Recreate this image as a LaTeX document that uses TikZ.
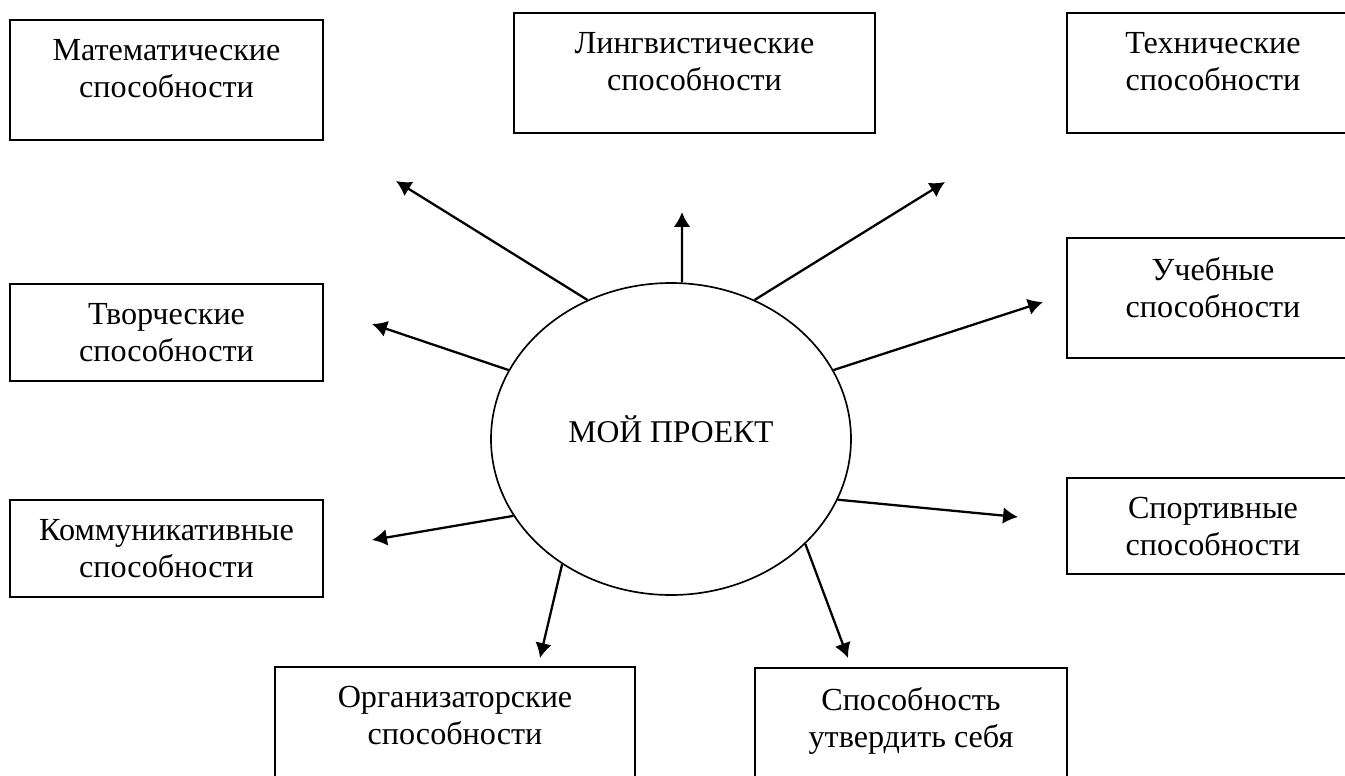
\documentclass[tikz,border=0pt]{standalone}
\usepackage{fontspec}
\setmainfont{Liberation Serif}
\usetikzlibrary{shapes.geometric, arrows.meta, positioning}

\begin{document}
\begin{tikzpicture}[x=0.2mm, y=-0.2mm,
		box/.style={draw, line width=1.1pt, anchor=north west, inner sep=0pt, outer sep=0pt},
		lbl/.style={align=center, inner sep=0pt, font=\fontsize{18.3}{21}\selectfont},
		arr/.style={-{Latex[length=8.5pt, width=9.5pt]}, line width=1.3pt}]
			\useasboundingbox (0,0) rectangle (1345,776);
			
			\node [draw, ellipse, line width=0.95pt, minimum width=7.2cm, minimum height=6.24cm, inner sep=0pt,
				text height=0.55cm, text depth=0.43cm, font=\fontsize{18}{21}\selectfont] (proj) at (671,439) {МОЙ ПРОЕКТ};
			
			\foreach \n/\bx/\by/\w/\h/\txt in {
				math/10/20/313/120/{Математические\\способности},
				ling/514/13/361/120/{Лингвистические\\способности},
				tech/1067/13/292/120/{Технические\\способности},
				study/1067/238/292/120/{Учебные\\способности},
				creat/10/284/313/97/{Творческие\\способности},
				comm/10/500/313/97/{Коммуникативные\\способности},
				sport/1067/478/292/96/{Спортивные\\способности},
				org/275/667/360/130/{Организаторские\\способности},
				self/755/668/312/130/{Способность\\утвердить себя}}
			{
				\node [box, minimum width=\w*0.2mm, minimum height=\h*0.2mm] (\n) at (\bx,\by) {};
				\node [lbl, below=0.38cm of \n.north] (\n-txt) {\txt};
			}
			
			\foreach \a/\t/\tx/\ty in {121/math/396/181, 86/ling/682/212, 59/tech/945/182,
				23/study/1043/302, 157/creat/372/324, 206/comm/372/540,
				340/sport/1018/517, 229/org/540/658, 322/self/848/658}
			{
				\coordinate (\t-tip) at (\tx,\ty);
				\draw [arr] (proj.\a) -- (\t-tip);
			}
\end{tikzpicture}
\end{document}
